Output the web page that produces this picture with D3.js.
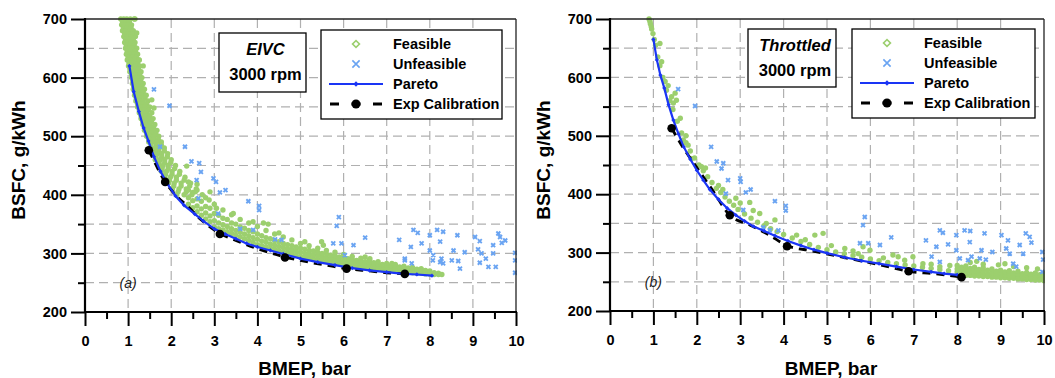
<!DOCTYPE html>
<html>
<head>
<meta charset="utf-8">
<script src="https://d3js.org/d3.v7.min.js"></script>
<style>
body { margin: 0; background: #fff; }
svg text { font-family: "Liberation Sans", Arial, sans-serif; }
</style>
</head>
<body>
<script>
// ---- tick values / labels
var xTicks = [0, 1, 2, 3, 4, 5, 6, 7, 8, 9, 10];
var xMinorTicks = [0.5, 1.5, 2.5, 3.5, 4.5, 5.5, 6.5, 7.5, 8.5, 9.5];
var yTicks = [200, 300, 400, 500, 600, 700];
var yMinorTicks = [250, 350, 450, 550, 650];
var xGrid = [1, 2, 3, 4, 5, 6, 7, 8, 9];
var yGrid = [250, 300, 350, 400, 450, 500, 550, 600, 650];
var xTitle = "BMEP, bar";
var yTitle = "BSFC, g/kWh";
var legendNames = ["Feasible", "Unfeasible", "Pareto", "Exp Calibration"];
var panelModes = ["EIVC", "Throttled"];
var speedLabel = "3000 rpm";
var panelTags = ["(a)", "(b)"];

// ---- panel (a) EIVC
// feasible band, read as horizontal cuts: [bsfc, bmep, bmep, ...]
var feasibleRowsA = [
  [700, 0.83, 0.9, 0.97, 1.05, 1.14], [695, 0.87, 0.95, 1.03],
  [690, 0.85, 0.93, 1.0, 1.08], [685, 0.89, 0.98, 1.07],
  [680, 0.87, 0.95, 1.03, 1.12], [675, 0.92, 1.0, 1.1],
  [670, 0.9, 0.98, 1.06, 1.17], [665, 0.94, 1.03, 1.12],
  [660, 0.92, 1.0, 1.08, 1.16], [655, 0.96, 1.05, 1.14],
  [650, 0.94, 1.02, 1.1, 1.2], [645, 0.98, 1.07, 1.17],
  [640, 0.96, 1.04, 1.13, 1.22], [635, 1.0, 1.09, 1.19],
  [630, 0.98, 1.06, 1.15, 1.25], [625, 1.02, 1.12, 1.22],
  [620, 1.01, 1.08, 1.17, 1.27], [615, 1.05, 1.14, 1.24],
  [610, 1.04, 1.11, 1.2, 1.3], [605, 1.08, 1.17, 1.27],
  [600, 1.08, 1.14, 1.22, 1.32], [595, 1.11, 1.19, 1.29],
  [590, 1.1, 1.17, 1.25, 1.35], [585, 1.13, 1.22, 1.32],
  [580, 1.12, 1.2, 1.28, 1.38], [575, 1.16, 1.25, 1.35],
  [570, 1.15, 1.23, 1.31, 1.42], [565, 1.19, 1.28, 1.39],
  [560, 1.18, 1.26, 1.35, 1.46], [555, 1.22, 1.32, 1.43],
  [550, 1.22, 1.3, 1.39, 1.5], [545, 1.26, 1.36, 1.47],
  [540, 1.26, 1.34, 1.43, 1.55], [535, 1.3, 1.4, 1.5],
  [530, 1.3, 1.38, 1.47, 1.58], [525, 1.34, 1.44, 1.54],
  [520, 1.34, 1.42, 1.51, 1.62], [515, 1.38, 1.49, 1.59],
  [510, 1.38, 1.46, 1.56, 1.67], [505, 1.43, 1.54, 1.64],
  [500, 1.43, 1.51, 1.6, 1.71], [495, 1.48, 1.59, 1.7],
  [490, 1.48, 1.56, 1.66, 1.77], [485, 1.53, 1.65, 1.77],
  [480, 1.53, 1.62, 1.72, 1.84], [475, 1.59, 1.71, 1.84],
  [470, 1.58, 1.68, 1.78, 1.92], [465, 1.65, 1.78, 1.91],
  [460, 1.63, 1.74, 1.85, 2.0], [455, 1.72, 1.85, 1.99],
  [450, 1.7, 1.81, 1.93, 2.1], [445, 1.79, 1.93, 2.08],
  [440, 1.77, 1.89, 2.02, 2.2], [435, 1.87, 2.02, 2.19],
  [430, 1.85, 1.98, 2.12, 2.32], [425, 1.96, 2.12, 2.3],
  [420, 1.94, 2.07, 2.23, 2.45], [415, 2.06, 2.23, 2.43],
  [410, 2.03, 2.18, 2.35, 2.58], [405, 2.16, 2.35, 2.56],
  [400, 2.13, 2.3, 2.48, 2.72]
];
// feasible band, read as vertical cuts: [bmep, bsfc, bsfc, ...]
var feasibleColsA = [
  [2.4, 384, 395, 408, 422], [2.5, 378, 390, 404], [2.6, 371, 381, 393, 408],
  [2.7, 365, 376, 389], [2.8, 359, 369, 380, 395], [2.9, 354, 364, 377],
  [3.0, 345, 356, 368, 384], [3.1, 342, 352, 365], [3.2, 340, 349, 360, 374],
  [3.3, 337, 346, 358], [3.4, 334, 342, 352, 366], [3.5, 331, 339, 350],
  [3.6, 328, 336, 345, 358], [3.7, 325, 333, 343], [3.8, 322, 330, 339, 352],
  [3.9, 319, 327, 337], [4.0, 315, 324, 333, 346], [4.1, 313, 321, 330],
  [4.2, 311, 319, 327, 339], [4.3, 309, 316, 325], [4.4, 307, 314, 322, 333],
  [4.5, 305, 312, 320], [4.6, 303, 310, 317, 328], [4.7, 301, 308, 315],
  [4.8, 299, 306, 313, 323], [4.9, 297, 304, 311], [5.0, 295, 302, 309, 317],
  [5.1, 294, 300, 307], [5.2, 293, 299, 305, 313], [5.3, 291, 297, 304],
  [5.4, 290, 296, 302, 309], [5.5, 288, 294, 300], [5.6, 287, 293, 299, 305],
  [5.7, 286, 291, 297], [5.8, 284, 290, 296, 302], [5.9, 283, 288, 294],
  [6.0, 281, 287, 293, 298], [6.1, 280, 285, 291], [6.2, 279, 285, 290, 295],
  [6.3, 278, 283, 288], [6.4, 277, 283, 288, 292], [6.5, 276, 281, 286],
  [6.6, 275, 281, 285, 289], [6.7, 274, 279, 284], [6.8, 273, 278, 282, 286],
  [6.9, 272, 276, 281], [7.0, 271, 276, 280, 283], [7.1, 271, 275, 279],
  [7.2, 270, 274, 278, 281], [7.3, 269, 273, 277], [7.4, 268, 272, 276, 278],
  [7.5, 268, 271, 275], [7.6, 267, 271, 274, 276], [7.7, 266, 269, 273],
  [7.8, 266, 269, 272, 274], [7.9, 265, 268, 271], [8.0, 265, 267, 270],
  [8.1, 264, 267], [8.2, 264, 266]
];
var feasibleExtraA = [
  [1.2, 676], [1.26, 630], [1.55, 562], [1.6, 548], [2.36, 449], [2.9, 405],
  [2.88, 391], [3.05, 377], [3.44, 368], [3.9, 354], [4.14, 352], [4.25, 350],
  [5.1, 320], [5.49, 320], [5.53, 314], [6.5, 294], [6.61, 291], [7.12, 283],
  [8.28, 264], [1.35, 620], [1.16, 700], [2.6, 418], [4.5, 335]
];
var unfeasibleA = [
  [1.6, 580], [1.96, 552], [1.74, 482], [2.32, 482], [2.47, 457], [2.65, 454],
  [2.69, 439], [2.59, 425], [2.98, 428], [3.04, 422], [3.13, 404], [3.26, 408],
  [3.79, 389], [4.04, 381], [4.04, 374], [2.63, 394], [3.09, 368], [3.6, 342],
  [3.9, 340], [4.41, 324], [4.56, 323], [5.89, 362], [5.84, 347], [5.76, 317],
  [5.95, 317], [6.23, 314], [6.5, 327], [6.03, 297], [7.29, 323], [7.42, 291],
  [7.56, 311], [7.62, 340], [7.72, 335], [7.81, 317], [7.42, 288], [7.58, 283],
  [8.0, 331], [8.17, 340], [8.31, 337], [8.24, 320], [8.0, 305], [8.08, 297],
  [8.27, 291], [8.31, 283], [8.07, 288], [8.24, 285], [8.55, 305], [8.64, 331],
  [8.51, 288], [8.66, 287], [8.7, 274], [8.81, 302], [9.05, 328], [9.16, 321],
  [9.12, 307], [9.2, 300], [9.16, 284], [9.36, 277], [9.3, 291], [9.47, 314],
  [9.53, 277], [9.47, 300], [9.59, 334], [9.63, 328], [9.67, 318], [9.75, 322],
  [9.98, 301], [9.98, 288], [9.98, 267]
];
var paretoA = [
  [1.03, 620], [1.13, 576], [1.25, 542], [1.36, 514], [1.47, 492], [1.6, 465],
  [1.75, 440], [1.92, 418], [2.1, 398], [2.3, 382], [2.55, 367], [2.75, 355],
  [3.0, 342], [3.25, 333], [3.5, 325], [3.75, 317], [4.0, 311], [4.3, 305],
  [4.6, 299], [5.0, 291], [5.4, 285], [5.8, 280], [6.2, 275], [6.6, 271],
  [7.0, 268], [7.4, 265], [7.7, 264], [8.05, 262]
];
// measured calibration points (dots) and the dashed calibration trace
var expA = [[1.48, 476], [1.86, 422], [3.13, 333], [4.64, 293], [6.07, 274], [7.42, 265]];
var expCurveA = [
  [1.48, 476], [1.6, 458], [1.86, 422], [2.1, 400], [2.4, 379], [2.7, 357],
  [3.13, 334], [3.5, 322], [4.0, 308], [4.64, 294], [5.2, 285], [5.6, 280],
  [6.07, 274], [6.6, 270], [7.0, 267], [7.42, 265]
];

// ---- panel (b) Throttled
var feasibleColsB = [
  [8.0, 262, 267, 272, 278], [8.1, 263, 269, 275], [8.2, 261, 266, 271, 277],
  [8.3, 261, 267, 273], [8.4, 260, 264, 269, 275], [8.5, 260, 265, 271],
  [8.6, 259, 263, 268, 274], [8.7, 259, 264, 270], [8.8, 258, 262, 266, 272],
  [8.9, 258, 263, 268], [9.0, 257, 261, 265, 270], [9.1, 257, 262, 267],
  [9.2, 256, 260, 264, 269], [9.3, 256, 260, 265], [9.4, 255, 259, 263, 268],
  [9.5, 255, 259, 264], [9.6, 254, 258, 262, 266], [9.7, 254, 258, 263],
  [9.8, 253, 257, 261, 265], [9.9, 253, 257, 262], [10.0, 252, 256, 260, 264]
];
var feasibleExtraB = [
  [0.9, 700], [0.92, 696], [0.93, 692], [0.95, 687], [0.96, 683], [0.99, 675], [1.02, 665],
  [1.05, 655], [1.1, 635], [1.15, 620], [1.22, 600], [1.3, 578], [1.38, 560],
  [1.45, 545], [1.55, 525], [1.65, 505], [1.75, 488], [1.85, 474], [1.95, 462],
  [2.05, 450], [2.15, 440], [2.25, 430], [2.35, 420], [2.45, 410], [2.55, 403],
  [2.65, 395], [2.75, 388], [2.85, 381], [2.95, 374], [3.1, 366], [3.25, 359],
  [3.4, 352], [3.55, 346], [3.7, 341], [3.85, 336], [4.0, 331], [4.2, 325],
  [4.4, 319], [4.6, 314], [4.8, 309], [5.0, 305], [5.2, 301], [5.4, 298],
  [5.6, 295], [5.8, 292], [6.0, 289], [6.2, 286], [6.4, 283], [6.6, 281],
  [6.8, 279], [7.0, 277], [7.2, 275], [7.4, 273], [7.6, 271], [7.8, 269],
  [1.15, 658], [1.19, 627], [1.27, 593], [1.34, 586], [1.5, 573], [1.42, 567],
  [1.46, 556], [1.69, 493], [1.8, 484], [1.88, 461], [2.11, 447], [1.53, 561],
  [1.62, 530], [1.75, 500], [2.2, 445], [2.5, 415], [2.6, 408], [2.9, 393],
  [3.0, 385], [3.22, 386], [3.45, 367], [3.8, 356], [3.3, 372], [4.3, 330],
  [4.72, 330], [4.91, 333], [5.41, 307], [5.72, 298], [5.83, 310], [5.99, 304],
  [6.52, 296], [6.64, 293], [6.79, 287], [6.98, 293], [7.21, 281], [7.6, 276],
  [7.83, 278], [5.1, 312], [5.6, 303], [6.3, 291], [7.4, 280], [4.5, 322], [3.6, 350],
  [8.3, 283], [8.6, 280], [8.95, 279], [9.3, 276], [9.6, 274], [9.85, 272],
  [8.45, 285], [9.1, 281]
];
var unfeasibleB = [
  [1.57, 580], [1.96, 551], [2.33, 481], [2.46, 456], [2.61, 453], [2.57, 444],
  [2.72, 424], [3.0, 427], [3.01, 421], [3.13, 403], [3.24, 408], [3.8, 388],
  [4.05, 380], [4.05, 372], [2.67, 401], [3.07, 373], [3.53, 343], [3.68, 338],
  [3.88, 338], [5.87, 361], [5.83, 347], [5.76, 316], [5.95, 316], [6.22, 313],
  [6.48, 326], [7.6, 338], [7.67, 334], [7.28, 321], [7.52, 310], [7.79, 314],
  [7.41, 293], [7.6, 284], [7.98, 330], [8.17, 338], [8.3, 337], [8.29, 318],
  [7.98, 304], [8.06, 290], [8.25, 287], [8.33, 293], [8.56, 304], [8.63, 333],
  [8.52, 290], [8.66, 288], [8.81, 301], [9.02, 330], [9.17, 321], [9.13, 307],
  [9.21, 298], [9.29, 281], [9.36, 276], [9.44, 313], [9.52, 298], [9.58, 333],
  [9.67, 327], [9.71, 317], [9.96, 301], [9.98, 288], [9.96, 267]
];
var paretoB = [
  [1.0, 665], [1.08, 630], [1.16, 604], [1.25, 582], [1.35, 553], [1.46, 527],
  [1.58, 503], [1.7, 481], [1.85, 460], [2.0, 441], [2.15, 424], [2.3, 408],
  [2.5, 391], [2.7, 376], [2.9, 364], [3.1, 354], [3.3, 345], [3.55, 337],
  [3.8, 329], [4.1, 320], [4.4, 312], [4.7, 305], [5.0, 299], [5.4, 292],
  [5.8, 286], [6.2, 281], [6.6, 276], [7.0, 271], [7.4, 267], [7.7, 264], [8.0, 262]
];
var expB = [[1.42, 513], [2.76, 364], [4.08, 311], [6.88, 268], [8.1, 258]];
var expCurveB = [
  [1.42, 513], [1.7, 478], [1.95, 451], [2.38, 405], [2.76, 364], [3.23, 347],
  [3.65, 331], [4.08, 312], [4.65, 303], [5.3, 293], [5.9, 284], [6.4, 276],
  [6.88, 268], [7.45, 264], [8.1, 258]
];

var colFeasible = "#9ccf6e";
var colUnfeasible = "#6aa4f2";
var colPareto = "#1a35f5";
var fontBold = "bold";

var canvas = d3.select("body").append("svg")
  .attr("width", 1055)
  .attr("height", 378);

function flattenRows(rows) {
  var out = [];
  rows.forEach(function(r) {
    for (var i = 1; i < r.length; i++) out.push([r[i], r[0]]);
  });
  return out;
}
function flattenCols(cols) {
  var out = [];
  cols.forEach(function(c) {
    for (var i = 1; i < c.length; i++) out.push([c[0], c[i]]);
  });
  return out;
}

var panels = [
  {
    left: 85, right: 516, top: 19, bottom: 312,
    feasible: flattenRows(feasibleRowsA).concat(flattenCols(feasibleColsA), feasibleExtraA),
    unfeasible: unfeasibleA, pareto: paretoA, exp: expA, expCurve: expCurveA,
    mode: panelModes[0], tag: panelTags[0],
    box: {x: 219, y: 33, w: 87, h: 59},
    legend: {x: 321, y: 30, w: 181, h: 89}
  },
  {
    left: 610, right: 1044, top: 19, bottom: 311,
    feasible: flattenCols(feasibleColsB).concat(feasibleExtraB),
    unfeasible: unfeasibleB, pareto: paretoB, exp: expB, expCurve: expCurveB,
    mode: panelModes[1], tag: panelTags[1],
    box: {x: 748, y: 29, w: 88, h: 58},
    legend: {x: 852, y: 29, w: 183, h: 89}
  }
];

panels.forEach(drawPanel);

function drawPanel(p, idx) {
  var xScale = d3.scaleLinear().domain([0, 10]).range([p.left, p.right]);
  var yScale = d3.scaleLinear().domain([200, 700]).range([p.bottom, p.top]);
  var g = canvas.append("g");

  // dashed grid
  g.selectAll(".vgrid").data(xGrid).enter().append("line")
    .attr("x1", function(d) { return xScale(d); })
    .attr("x2", function(d) { return xScale(d); })
    .attr("y1", p.top).attr("y2", p.bottom)
    .attr("stroke", "#b0b0b0").attr("stroke-width", 1.2)
    .attr("stroke-dasharray", "9,5");
  g.selectAll(".hgrid").data(yGrid).enter().append("line")
    .attr("x1", p.left).attr("x2", p.right)
    .attr("y1", function(d) { return yScale(d); })
    .attr("y2", function(d) { return yScale(d); })
    .attr("stroke", "#b0b0b0").attr("stroke-width", 1.2)
    .attr("stroke-dasharray", "9,5");

  // data clipped to plot area
  var clipId = "clip" + idx;
  canvas.append("clipPath").attr("id", clipId).append("rect")
    .attr("x", p.left).attr("y", p.top - 3)
    .attr("width", p.right - p.left + 1).attr("height", p.bottom - p.top + 3);
  var plot = g.append("g").attr("clip-path", "url(#" + clipId + ")");

  plot.selectAll(".feas").data(p.feasible).enter().append("circle")
    .attr("cx", function(d) { return xScale(d[0]); })
    .attr("cy", function(d) { return yScale(d[1]); })
    .attr("r", 2.7)
    .attr("fill", colFeasible);

  var xSym = d3.symbol().type(d3.symbolX).size(12);
  plot.selectAll(".unf").data(p.unfeasible).enter().append("path")
    .attr("d", xSym)
    .attr("transform", function(d) { return "translate(" + xScale(d[0]) + "," + yScale(d[1]) + ")"; })
    .attr("fill", "none")
    .attr("stroke", colUnfeasible)
    .attr("stroke-width", 1.9);

  var expLine = d3.line()
    .x(function(d) { return xScale(d[0]); })
    .y(function(d) { return yScale(d[1]); })
    .curve(d3.curveMonotoneX);
  plot.append("path").datum(p.expCurve)
    .attr("d", expLine)
    .attr("fill", "none").attr("stroke", "#000")
    .attr("stroke-width", 2.8).attr("stroke-dasharray", "8,6");

  var parLine = d3.line()
    .x(function(d) { return xScale(d[0]); })
    .y(function(d) { return yScale(d[1]); });
  plot.append("path").datum(p.pareto)
    .attr("d", parLine)
    .attr("fill", "none").attr("stroke", colPareto)
    .attr("stroke-width", 2.2);
  plot.selectAll(".par").data(p.pareto).enter().append("path")
    .attr("d", d3.symbol().type(d3.symbolSquare).size(9))
    .attr("transform", function(d) { return "translate(" + xScale(d[0]) + "," + yScale(d[1]) + ") rotate(45)"; })
    .attr("fill", colPareto);

  plot.selectAll(".exp").data(p.exp).enter().append("circle")
    .attr("cx", function(d) { return xScale(d[0]); })
    .attr("cy", function(d) { return yScale(d[1]); })
    .attr("r", 4.3)
    .attr("fill", "#000");

  // frame
  g.append("line").attr("x1", p.left).attr("x2", p.right)
    .attr("y1", p.top).attr("y2", p.top)
    .attr("stroke", "#222").attr("stroke-width", 1.3);
  g.append("line").attr("x1", p.right).attr("x2", p.right)
    .attr("y1", p.top).attr("y2", p.bottom)
    .attr("stroke", "#222").attr("stroke-width", 1.3);

  // axes
  var gx = g.append("g").attr("transform", "translate(0," + p.bottom + ")")
    .call(d3.axisBottom(xScale).tickValues(xTicks).tickSize(14).tickPadding(10)
      .tickFormat(d3.format("d")));
  var gxm = g.append("g").attr("transform", "translate(0," + p.bottom + ")")
    .call(d3.axisBottom(xScale).tickValues(xMinorTicks).tickSize(7).tickFormat(""));
  var gy = g.append("g").attr("transform", "translate(" + p.left + ",0)")
    .call(d3.axisLeft(yScale).tickValues(yTicks).tickSize(14).tickPadding(4)
      .tickFormat(d3.format("d")));
  var gym = g.append("g").attr("transform", "translate(" + p.left + ",0)")
    .call(d3.axisLeft(yScale).tickValues(yMinorTicks).tickSize(7).tickFormat(""));

  [gx, gxm, gy, gym].forEach(function(a) {
    a.select(".domain").remove();
    a.selectAll("line").attr("stroke", "#000").attr("stroke-width", 2);
    a.selectAll("text")
      .attr("font-size", 14.5)
      .attr("font-weight", fontBold)
      .attr("font-family", "Liberation Sans, Arial, sans-serif")
      .attr("fill", "#000");
  });

  g.append("line").attr("x1", p.left).attr("x2", p.left)
    .attr("y1", p.top - 1).attr("y2", p.bottom + 1)
    .attr("stroke", "#000").attr("stroke-width", 2.2);
  g.append("line").attr("x1", p.left - 1).attr("x2", p.right + 1)
    .attr("y1", p.bottom).attr("y2", p.bottom)
    .attr("stroke", "#000").attr("stroke-width", 2.2);

  // axis titles
  g.append("text")
    .attr("x", (p.left + p.right) / 2 + 4)
    .attr("y", 375)
    .attr("text-anchor", "middle")
    .attr("font-size", 19).attr("font-weight", fontBold)
    .text(xTitle);
  g.append("text")
    .attr("transform", "translate(" + (p.left - 60) + ",160) rotate(-90)")
    .attr("text-anchor", "middle")
    .attr("font-size", 19).attr("font-weight", fontBold)
    .text(yTitle);

  // panel tag
  g.append("text")
    .attr("x", xScale(1.0)).attr("y", yScale(250))
    .attr("dy", "0.35em")
    .attr("text-anchor", "middle")
    .attr("font-size", 14).attr("font-style", "italic")
    .attr("fill", "#222")
    .text(p.tag);

  // mode box
  g.append("rect")
    .attr("x", p.box.x).attr("y", p.box.y)
    .attr("width", p.box.w).attr("height", p.box.h)
    .attr("fill", "#fff").attr("stroke", "#000").attr("stroke-width", 1.3);
  g.append("text")
    .attr("x", p.box.x + p.box.w / 2 + 3).attr("y", p.box.y + 22)
    .attr("text-anchor", "middle")
    .attr("font-size", 16.5).attr("font-weight", fontBold).attr("font-style", "italic")
    .text(p.mode);
  g.append("text")
    .attr("x", p.box.x + p.box.w / 2 + 3).attr("y", p.box.y + 47)
    .attr("text-anchor", "middle")
    .attr("font-size", 16.5).attr("font-weight", fontBold)
    .text(speedLabel);

  // legend
  var L = p.legend;
  g.append("rect")
    .attr("x", L.x).attr("y", L.y).attr("width", L.w).attr("height", L.h)
    .attr("fill", "#fff").attr("stroke", "#000").attr("stroke-width", 1.3);
  var sx = L.x + 35;
  var rows = legendNames.map(function(n, i) { return L.y + 14 + i * 20; });

  g.append("path")
    .attr("d", d3.symbol().type(d3.symbolSquare).size(24)())
    .attr("transform", "translate(" + sx + "," + rows[0] + ") rotate(45)")
    .attr("fill", "none").attr("stroke", colFeasible).attr("stroke-width", 1.6);
  g.append("path")
    .attr("d", d3.symbol().type(d3.symbolX).size(36)())
    .attr("transform", "translate(" + sx + "," + rows[1] + ")")
    .attr("fill", "none").attr("stroke", colUnfeasible).attr("stroke-width", 1.6);
  g.append("line")
    .attr("x1", L.x + 8).attr("x2", L.x + 62)
    .attr("y1", rows[2]).attr("y2", rows[2])
    .attr("stroke", colPareto).attr("stroke-width", 2.2);
  g.append("path")
    .attr("d", d3.symbol().type(d3.symbolSquare).size(14)())
    .attr("transform", "translate(" + sx + "," + rows[2] + ") rotate(45)")
    .attr("fill", colPareto);
  g.append("line")
    .attr("x1", L.x + 9).attr("x2", L.x + 61)
    .attr("y1", rows[3]).attr("y2", rows[3])
    .attr("stroke", "#000").attr("stroke-width", 3)
    .attr("stroke-dasharray", "9,12.5,9,12.5,9");
  g.append("circle")
    .attr("cx", sx).attr("cy", rows[3]).attr("r", 4.5)
    .attr("fill", "#000");

  g.selectAll(".legtext").data(legendNames).enter().append("text")
    .attr("x", L.x + 72)
    .attr("y", function(d, i) { return rows[i] + 5; })
    .attr("font-size", 14.5).attr("font-weight", fontBold)
    .text(function(d) { return d; });
}
</script>
</body>
</html>
